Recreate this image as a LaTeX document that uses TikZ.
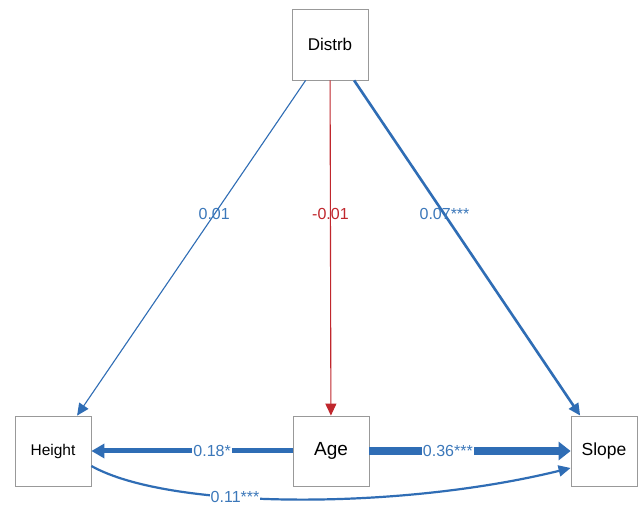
\documentclass[tikz,border=0pt]{standalone}
\usepackage{fontspec}
\setmainfont{Liberation Sans}
\usetikzlibrary{arrows.meta,calc}
\definecolor{pblue}{HTML}{2F6DB5}
\definecolor{lblue}{HTML}{3C78BA}
\definecolor{pred}{HTML}{C0272D}
\begin{document}
\begin{tikzpicture}[x=1pt,y=1pt,
  var/.style={draw=black!40,line width=0.8pt,fill=white,inner sep=0pt},
  lab/.style={text=lblue,font=\fontsize{16}{19}\selectfont,inner sep=1pt},
  labw/.style={lab,fill=white},
  tip/.style={-{Triangle[length=12pt,width=11pt]}},
  bigtip/.style={-{Triangle[length=12pt,width=18pt]}}
]
\useasboundingbox[fill=white] (0,0) rectangle (640,506);
\node[var,minimum width=76pt,minimum height=71pt,font=\fontsize{17}{20}\selectfont] (D) at (330,461.5) {Distrb};
\node[var,minimum width=76pt,minimum height=70pt,font=\fontsize{15.5}{18}\selectfont] (H) at (53,55) {Height};
\node[var,minimum width=76pt,minimum height=70pt,font=\fontsize{19}{22}\selectfont] (A) at (331,55) {Age};
\node[var,minimum width=66pt,minimum height=70pt,font=\fontsize{17.5}{20}\selectfont] (S) at (604,55) {Slope};

\draw[tip,pblue,line width=1.1pt] (D) -- node[lab,pos=0.4]{0.01} (H);
\draw[tip,pred,line width=1.1pt] (D) -- node[lab,text=pred,pos=0.4]{-0.01} (A);
\draw[tip,pblue,line width=2.6pt] (D) -- node[lab,pos=0.4]{0.07***} (S);
\draw[-{Triangle[length=13pt,width=14pt]},pblue,line width=5pt] (A) -- node[labw,pos=0.4]{0.18*} (H);
\draw[bigtip,pblue,line width=8pt] (A) -- node[labw,pos=0.39]{0.36***} (S);
\draw[tip,pblue,line width=2.2pt] ($(H.east)+(0,-15)$) .. controls (170,-4) and (400,-4) .. node[labw,pos=0.38]{0.11***} ($(S.west)+(0,-17)$);
\end{tikzpicture}
\end{document}
